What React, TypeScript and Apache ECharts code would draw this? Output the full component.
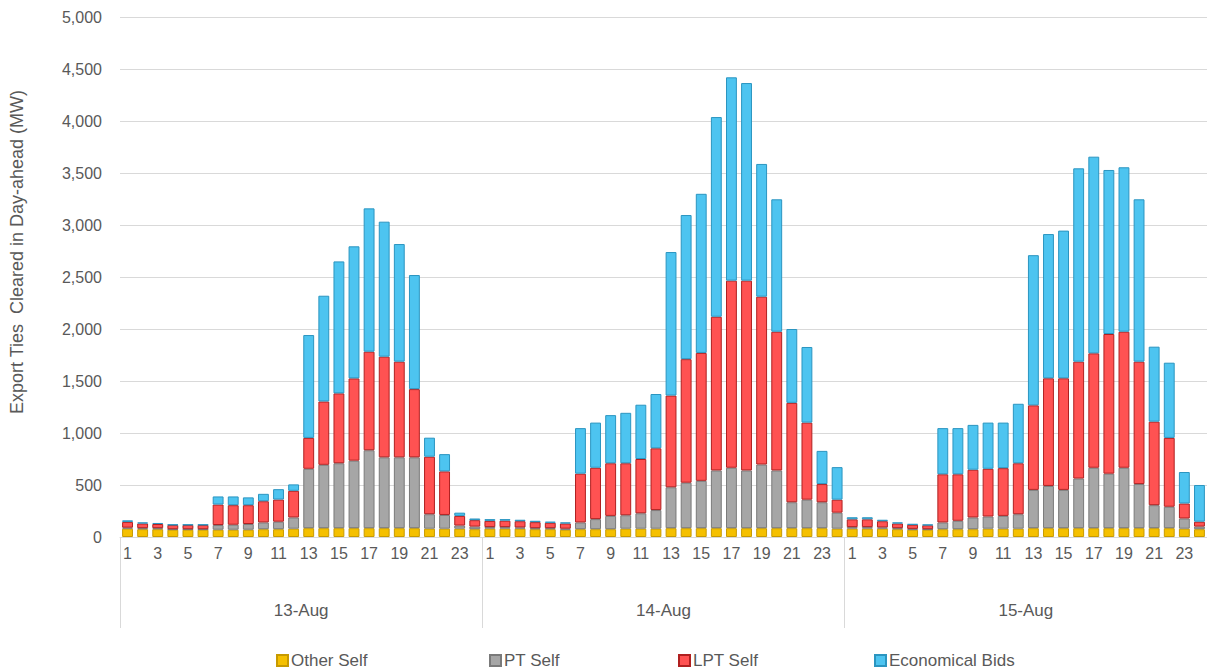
import React, { useEffect, useRef } from "react";
import * as echarts from "echarts";

const days = ["13-Aug", "14-Aug", "15-Aug"];
const hours = ["1","2","3","4","5","6","7","8","9","10","11","12","13","14","15","16","17","18","19","20","21","22","23","24"];
const seriesNames = ["Other Self", "PT Self", "LPT Self", "Economical Bids"];
const yTicks = [0, 500, 1000, 1500, 2000, 2500, 3000, 3500, 4000, 4500, 5000];

const otherSelf = [
  80,75,75,70,70,70,70,70,70,75,75,80,85,85,85,85,85,85,85,85,80,80,80,75,
  80,80,80,75,75,70,75,75,75,80,80,80,85,85,85,85,85,85,85,85,85,85,85,80,
  80,80,80,75,70,70,75,75,75,80,80,80,85,85,85,85,85,85,85,85,85,85,80,75,
];
const ptSelf = [
  10,10,10,5,5,5,45,48,55,65,72,108,571,609,624,649,749,681,681,681,139,132,30,25,
  15,15,12,10,10,10,65,97,128,129,148,179,393,437,455,555,581,555,612,555,249,274,249,154,
  15,15,12,10,8,5,65,81,113,117,123,139,368,406,368,477,581,524,581,424,221,206,98,25,
];
const lptSelf = [
  55,45,40,40,40,40,197,188,181,204,213,256,297,609,672,791,948,968,920,656,553,419,93,62,
  60,62,60,58,52,50,469,494,506,500,522,594,882,1188,1230,1478,1799,1825,1614,1334,956,741,175,125,
  75,75,60,45,40,38,463,447,459,459,459,490,813,1035,1073,1124,1100,1343,1308,1177,803,662,144,47,
];
const econBids = [
  15,10,10,5,5,5,78,84,75,71,100,62,989,1017,1269,1270,1378,1298,1131,1097,183,166,31,16,
  17,15,14,13,10,10,438,434,463,485,522,522,1380,1386,1530,1920,1955,1900,1276,1273,710,727,319,313,
  20,20,14,10,7,6,444,444,431,444,438,572,1444,1387,1420,1859,1891,1577,1581,1561,721,723,303,353,
];

const FONT = "Liberation Sans";
const TXT = "#595959";

export default function App() {
  const ref = useRef<HTMLDivElement>(null);
  useEffect(() => {
    if (!ref.current) return;
    const chart = echarts.init(ref.current, null, { renderer: "svg" });
    const categories: string[] = [];
    days.forEach(() => hours.forEach((h) => categories.push(h)));
    const dataSets = [otherSelf, ptSelf, lptSelf, econBids];
    const fills = ["#F5C000", "#A6A6A6", "#FF5252", "#4DC4F0"];
    const borders = ["#C79A00", "#7A7A7A", "#B02020", "#2B95C0"];
    const legendLefts = [271, 484, 673, 869];
    const option: any = {
      animation: false,
      backgroundColor: "#ffffff",
      textStyle: { fontFamily: FONT },
      grid: { left: 120, right: -5, top: 17, bottom: 132 },
      legend: seriesNames.map((n, i) => ({
        data: [n],
        left: legendLefts[i],
        top: 647,
        icon: "rect",
        itemWidth: 11,
        itemHeight: 11,
        itemGap: 4,
        textStyle: { fontFamily: FONT, fontSize: 17, color: TXT, padding: [0, 0, 0, -2] },
      })),
      xAxis: [
        {
          type: "category",
          data: categories,
          position: "bottom",
          axisLine: { show: true, lineStyle: { color: "#D9D9D9" } },
          axisTick: { show: false },
          axisLabel: { interval: 1, margin: 8, fontSize: 16, color: TXT, fontFamily: FONT },
        },
        {
          type: "category",
          data: days,
          position: "bottom",
          axisLine: { show: false },
          axisTick: { show: true, length: 91, lineStyle: { color: "#D9D9D9" } },
          axisLabel: { margin: 65, fontSize: 17, color: TXT, fontFamily: FONT },
          splitLine: { show: false },
        },
      ],
      yAxis: {
        type: "value",
        min: yTicks[0],
        max: yTicks[yTicks.length - 1],
        interval: 500,
        axisLine: { show: false },
        axisTick: { show: false },
        splitLine: { lineStyle: { color: "#D9D9D9" } },
        axisLabel: {
          margin: 18,
          fontSize: 16,
          color: TXT,
          fontFamily: FONT,
          formatter: (v: number) => v.toLocaleString("en-US"),
        },
      },
      graphic: [
        {
          type: "text",
          x: 17,
          y: 252,
          rotation: Math.PI / 2,
          style: {
            text: "Export Ties  Cleared in Day-ahead (MW)",
            fontFamily: FONT,
            fontSize: 18,
            fill: TXT,
            textAlign: "center",
            textVerticalAlign: "middle",
          },
        },
      ],
      series: seriesNames.map((n, i) => ({
        name: n,
        type: "bar",
        stack: "total",
        xAxisIndex: 0,
        barCategoryGap: "28%",
        data: dataSets[i],
        itemStyle: { color: fills[i], borderColor: borders[i], borderWidth: 1 },
      })),
    };
    chart.setOption(option);
    return () => chart.dispose();
  }, []);
  return (
    <div
      ref={ref}
      style={{ position: "fixed", left: 0, top: 0, width: 1207, height: 669 }}
    />
  );
}
